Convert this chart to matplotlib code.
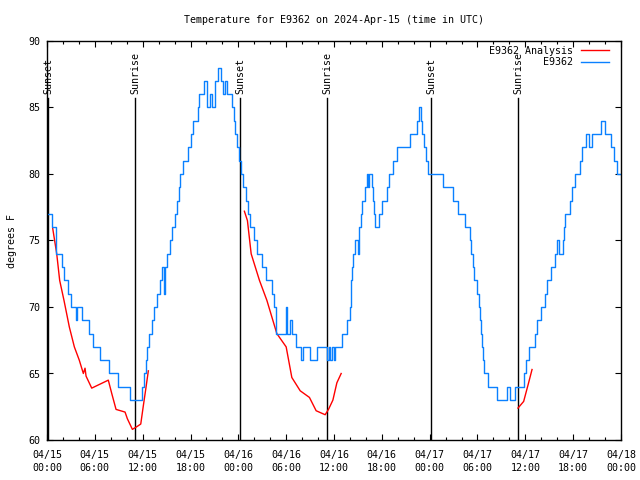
import matplotlib
matplotlib.use('Agg')
import matplotlib.pyplot as plt
from matplotlib.ticker import MultipleLocator

plt.rcParams['font.family'] = ['DejaVu Sans Mono']
plt.rcParams['font.size'] = 7.2

# hours since 2024-04-15 00:00 UTC
obs_hours = [0.13, 0.63, 1.13, 1.85, 2.13, 2.64, 2.97, 3.64, 3.77, 4.39, 5.27, 5.77,
             6.65, 7.74, 8.91, 10.42, 11.89, 12.18, 12.43, 12.55, 12.80, 13.18, 13.43,
             13.77, 14.18, 14.43, 14.69, 14.81, 15.06, 15.44, 15.69, 16.07, 16.32, 16.57,
             16.69, 17.03, 17.70, 18.04, 18.29, 18.92, 19.02, 19.71, 20.08, 20.46, 20.71,
             21.09, 21.46, 21.84, 22.09, 22.34, 22.59, 23.22, 23.47, 23.60, 23.85, 24.10,
             24.29, 24.60, 24.98, 25.23, 25.48, 25.98, 26.36, 26.99, 27.49, 28.24, 28.49,
             28.71, 30.00, 30.12, 30.50, 30.75, 31.25, 31.88, 32.09, 33.01, 33.85, 35.14,
             35.33, 35.52, 35.77, 36.02, 36.15, 36.99, 37.62, 38.03, 38.16, 38.28, 38.41,
             38.66, 39.04, 39.16, 39.41, 39.54, 39.91, 40.17, 40.29, 40.42, 40.79, 40.92,
             41.04, 41.17, 41.67, 42.05, 42.68, 42.93, 43.43, 43.93, 45.56, 46.44, 46.63,
             46.88, 47.07, 47.32, 47.57, 47.82, 49.71, 50.96, 51.59, 52.47, 53.09, 53.22,
             53.47, 53.60, 53.97, 54.22, 54.35, 54.48, 54.60, 54.73, 54.85, 55.32, 56.48,
             57.74, 58.11, 58.74, 59.87, 60.12, 60.50, 61.25, 61.50, 62.00, 62.51, 62.76,
             63.26, 63.76, 64.01, 64.26, 64.77, 64.89, 65.02, 65.27, 65.65, 65.90, 66.27,
             66.90, 67.15, 67.62, 68.03, 68.37, 69.54, 70.04, 70.79, 71.17, 71.55, 71.92]
obs_temp = [77, 76, 74, 73, 72, 71, 70, 69, 70, 69, 68, 67,
            66, 65, 64, 63, 64, 65, 66, 67, 68, 69, 70,
            71, 72, 73, 71, 73, 74, 75, 76, 77, 78, 79,
            80, 81, 82, 83, 84, 85, 86, 87, 85, 86, 85,
            87, 88, 87, 86, 87, 86, 85, 84, 83, 82, 81,
            80, 79, 78, 77, 76, 75, 74, 73, 72, 71, 70,
            68, 70, 68, 69, 68, 67, 66, 67, 66, 67, 66,
            67, 66, 67, 66, 67, 68, 69, 70, 72, 73, 74,
            75, 74, 76, 77, 78, 79, 80, 79, 80, 79, 78,
            77, 76, 77, 78, 79, 80, 81, 82, 83, 84, 85,
            84, 83, 82, 81, 80, 79, 78, 77, 76, 75, 74,
            73, 72, 71, 70, 69, 68, 67, 66, 65, 64, 63,
            64, 63, 64, 65, 66, 67, 68, 69, 70, 71, 72,
            73, 74, 75, 74, 75, 76, 77, 77, 78, 79, 80,
            81, 82, 83, 82, 83, 84, 83, 82, 81, 80, 80]

ana1_hours = [0.72, 1.22, 1.59, 2.13, 2.80, 3.43, 4.05, 4.56, 4.77, 4.90, 5.61, 6.65,
              7.69, 8.12, 8.66, 9.79, 10.08, 10.71, 11.26, 11.76, 12.09, 12.43, 12.71]
ana1_temp = [75.9, 74.0, 72.0, 70.5, 68.5, 67.0, 66.0, 65.0, 65.4, 64.8, 63.9, 64.2,
             64.5, 63.5, 62.3, 62.1, 61.6, 60.8, 61.0, 61.2, 62.6, 64.0, 65.2]
ana2_hours = [24.76, 25.14, 25.61, 26.65, 27.58, 28.83, 30.00, 30.71, 31.76, 32.92,
              33.76, 34.89, 35.31, 35.86, 36.36, 36.90]
ana2_temp = [77.2, 76.5, 74.0, 72.0, 70.5, 68.0, 67.0, 64.7, 63.7, 63.2,
             62.2, 61.9, 62.3, 63.0, 64.3, 65.0]
ana3_hours = [59.08, 59.79, 60.41, 60.84]
ana3_temp = [62.4, 62.9, 64.3, 65.3]

sunset_hours = [0.13, 24.22, 48.2]
sunrise_hours = [11.05, 35.14, 59.12]

tick_hours = list(range(0, 73, 6))
tick_labels = ['04/15\n00:00', '04/15\n06:00', '04/15\n12:00', '04/15\n18:00',
               '04/16\n00:00', '04/16\n06:00', '04/16\n12:00', '04/16\n18:00',
               '04/17\n00:00', '04/17\n06:00', '04/17\n12:00', '04/17\n18:00',
               '04/18\n00:00']

fig = plt.figure(figsize=(6.4, 4.8), dpi=100)
ax = fig.add_axes([47 / 640, 40 / 480, 574 / 640, 399 / 480])

line_top = 85.7
for h in sunset_hours:
    ax.plot([h, h], [60, line_top], color='black', lw=1)
    ax.text(h, 86.0, 'Sunset', rotation=90, ha='center', va='bottom')
for h in sunrise_hours:
    ax.plot([h, h], [60, line_top], color='black', lw=1)
    ax.text(h, 86.0, 'Sunrise', rotation=90, ha='center', va='bottom')

ax.plot(ana1_hours, ana1_temp, color='#ff0000', lw=1, label='E9362 Analysis')
ax.plot(ana2_hours, ana2_temp, color='#ff0000', lw=1)
ax.plot(ana3_hours, ana3_temp, color='#ff0000', lw=1)
ax.plot(obs_hours, obs_temp, color='#0a80ff', lw=1, drawstyle='steps-post', label='E9362')

ax.set_xlim(0, 72)
ax.set_ylim(60, 90)
ax.set_xticks(tick_hours)
ax.set_xticklabels(tick_labels, linespacing=1.35)
ax.xaxis.set_minor_locator(MultipleLocator(2))
ax.set_yticks(range(60, 91, 5))
ax.tick_params(which='both', direction='in', top=True, right=True)
ax.tick_params(axis='x', pad=7.5)
ax.tick_params(axis='y', pad=5)
ax.tick_params(which='major', length=4.5, width=0.8)
ax.tick_params(which='minor', length=2.2, width=0.8)
for s in ax.spines.values():
    s.set_linewidth(1)

ax.set_ylabel('degrees F', labelpad=8)
fig.text((47 + 621) / 2 / 640, 1 - 20 / 480, 'Temperature for E9362 on 2024-Apr-15 (time in UTC)',
         ha='center', va='center')
ax.legend(loc='upper right', bbox_to_anchor=(0.979, 0.988), markerfirst=False,
          frameon=False, handlelength=2.8, labelspacing=0.15, borderaxespad=0,
          borderpad=0, handletextpad=0.8)

fig.savefig('out.png', dpi=100)
